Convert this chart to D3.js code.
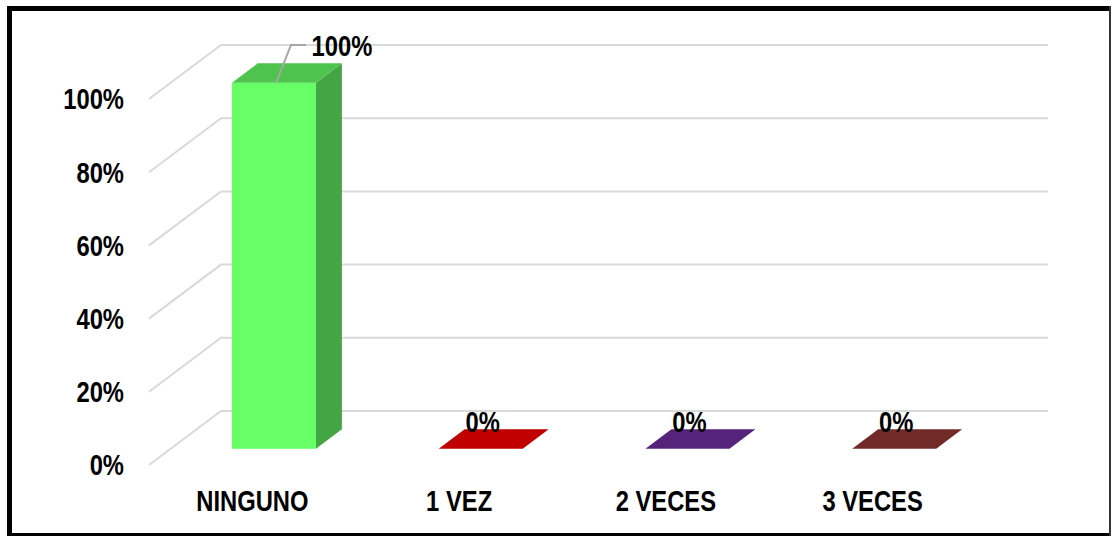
<!DOCTYPE html>
<html>
<head>
<meta charset="utf-8">
<script src="https://cdn.jsdelivr.net/npm/d3@7"></script>
<style>
  html, body { margin: 0; padding: 0; background: #ffffff; }
  svg { display: block; }
  text { font-family: "Liberation Sans", Arial, sans-serif; font-weight: bold; fill: #000; }
</style>
</head>
<body>
<svg id="chart" width="1113" height="538"></svg>
<script>
// Categories and shares (fraction of respondents)
const categories = ["NINGUNO", "1 VEZ", "2 VECES", "3 VECES"];
const values = [1.00, 0.00, 0.00, 0.00];
const valueLabels = ["100%", "0%", "0%", "0%"];
const tickValues = [0, 0.2, 0.4, 0.6, 0.8, 1.0];
const tickLabels = ["0%", "20%", "40%", "60%", "80%", "100%"];

// Face colours per column: front, top, side
const frontColors = ["#66FF66", "#C00000", "#55247A", "#722A29"];
const topColors   = ["#4EC44E", "#C00000", "#55247A", "#722A29"];
const sideColors  = ["#44A544", "#A00000", "#46205F", "#5E2322"];

const svg = d3.select("#chart");

const FONT_SIZE = 29;
const NARROW = 0.82; // condensed look for all labels

// Places a narrow bold label at (px, py)
function narrowText(sel, px, py, str, anchor, dy) {
  return sel.append("text")
    .attr("transform", `translate(${px},${py}) scale(${NARROW},1)`)
    .attr("text-anchor", anchor)
    .attr("dy", dy || 0)
    .attr("font-size", FONT_SIZE)
    .text(str);
}

// Floor / wall geometry of the 3D plot
const depthX = 72, depthY = -54;       // full depth of the floor
const barF0 = 0.3, barF1 = 0.66;       // bar front / back position within depth

const x = d3.scaleBand().domain(categories).range([149, 976]);
const y = d3.scaleLinear().domain([0, 1]).range([465, 99]);
const barWidth = 84;

// Gridlines: diagonal on the left side wall, horizontal on the back wall
const grid = svg.append("g");
tickValues.forEach(v => {
  const y0 = y(v);
  grid.append("path")
    .attr("d", `M${x.range()[0]},${y0} L${x.range()[0] + depthX},${y0 + depthY} L${x.range()[1] + depthX},${y0 + depthY}`)
    .attr("fill", "none")
    .attr("stroke", "#d9d9d9")
    .attr("stroke-width", 2);
});

// Y axis tick labels
const ticks = svg.append("g");
tickValues.forEach((v, i) => narrowText(ticks, 124, y(v), tickLabels[i], "end", "0.36em"));

// Columns
const bars = svg.append("g");
categories.forEach((c, i) => {
  const cx = x(c) + x.bandwidth() / 2 + depthX * barF0;
  const dy0 = depthY * barF0;
  const x0 = cx - barWidth / 2, x1 = cx + barWidth / 2;
  const yb = y(0) + dy0, yt = y(values[i]) + dy0;
  const ddx = depthX * (barF1 - barF0), ddy = depthY * (barF1 - barF0);
  if (values[i] > 0) {
    bars.append("polygon")
      .attr("points", [[x1, yt], [x1 + ddx, yt + ddy], [x1 + ddx, yb + ddy], [x1, yb]].join(" "))
      .attr("fill", sideColors[i]);
    bars.append("rect")
      .attr("x", x0).attr("y", yt)
      .attr("width", barWidth).attr("height", yb - yt)
      .attr("fill", frontColors[i]);
  }
  bars.append("polygon")
    .attr("points", [[x0, yt], [x0 + ddx, yt + ddy], [x1 + ddx, yt + ddy], [x1, yt]].join(" "))
    .attr("fill", topColors[i]);
});

// Value labels (tall column gets a leader line to a label above it)
const labels = svg.append("g");
categories.forEach((c, i) => {
  const cx = x(c) + x.bandwidth() / 2 + depthX * barF0;
  const yt = y(values[i]) + depthY * barF0;
  if (values[i] > 0.5) {
    const lx = cx + 68, ly = 56;
    labels.append("path")
      .attr("d", `M${cx + 2},${yt} L${cx + 17},${ly - 11} L${cx + 32},${ly - 11}`)
      .attr("fill", "none")
      .attr("stroke", "#a6a6a6")
      .attr("stroke-width", 2);
    narrowText(labels, lx, ly, valueLabels[i], "middle");
  } else {
    narrowText(labels, cx + 2, yt - 17, valueLabels[i], "middle");
  }
});

// Category labels
const cats = svg.append("g");
categories.forEach(c => narrowText(cats, x(c) + x.bandwidth() / 2, 511, c, "middle"));

// Outer frame
svg.append("line").attr("x1", 7).attr("y1", 8.5).attr("x2", 1111).attr("y2", 8.5).attr("stroke", "#000").attr("stroke-width", 5);
svg.append("line").attr("x1", 9.5).attr("y1", 6).attr("x2", 9.5).attr("y2", 536).attr("stroke", "#000").attr("stroke-width", 5);
svg.append("line").attr("x1", 7).attr("y1", 534.5).attr("x2", 1111).attr("y2", 534.5).attr("stroke", "#000").attr("stroke-width", 3);
svg.append("line").attr("x1", 1110).attr("y1", 6).attr("x2", 1110).attr("y2", 536).attr("stroke", "#333").attr("stroke-width", 2);
</script>
</body>
</html>
